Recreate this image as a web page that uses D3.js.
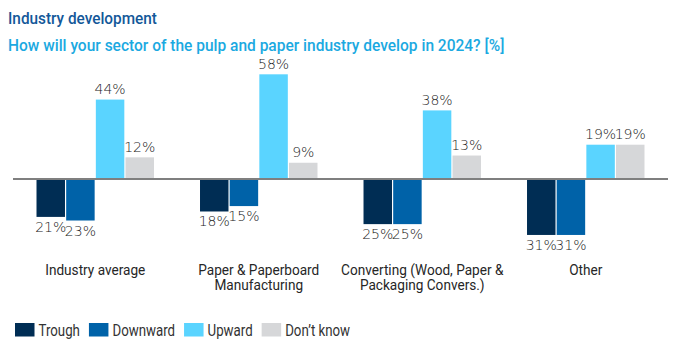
<!DOCTYPE html>
<html>
<head>
<meta charset="utf-8">
<script src="https://cdn.jsdelivr.net/npm/d3@7"></script>
<style>
  body { margin: 0; background: #fff; }
  svg { display: block; }
  text { font-family: Roboto, "Noto Sans", sans-serif; }
  text.val { font-family: "DejaVu Sans", sans-serif; font-weight: 200; }
</style>
</head>
<body>
<svg id="chart" width="673" height="341"></svg>
<script>
var categories = ["Industry average", "Paper & Paperboard Manufacturing", "Converting (Wood, Paper & Packaging Convers.)", "Other"];
var categoryLines = [["Industry average"], ["Paper & Paperboard", "Manufacturing"], ["Converting (Wood, Paper &", "Packaging Convers.)"], ["Other"]];
var seriesNames = ["Trough", "Downward", "Upward", "Don\u2019t know"];
var seriesColors = ["#002d54", "#0062a8", "#5ad4ff", "#d6d7d9"];

// negative = answers drawn below the line
var trough   = [-21, -18, -25, -31];
var downward = [-23, -15, -25, -31];
var upward   = [44, 58, 38, 19];
var dontKnow = [12, 9, 13, 19];

var series = [trough, downward, upward, dontKnow];

var svg = d3.select("#chart");

// the source font is condensed, squeeze Roboto horizontally
function squeezed(parent, x, y, sx) {
  return parent.append("g")
      .attr("transform", "translate(" + x + "," + y + ") scale(" + sx + ",1)")
    .append("text");
}

squeezed(svg, 8, 24, 0.93)
    .attr("font-size", 16.5)
    .attr("font-weight", 500)
    .attr("fill", "#135899")
    .text("Industry development");

squeezed(svg, 8, 51, 0.97)
    .attr("font-size", 16)
    .attr("font-weight", 500)
    .attr("fill", "#1ba9e1")
    .text("How will your sector of the pulp and paper industry develop in 2024? [%]");

// scales
var x0 = d3.scaleBand()
    .domain(categories)
    .range([13, 668])
    .paddingInner(0.267)
    .paddingOuter(0.1365);

var x1 = d3.scaleBand()
    .domain(seriesNames)
    .range([0, x0.bandwidth()])
    .padding(0.04);

var y = d3.scaleLinear()
    .domain([-40, 60])
    .range([251.2, 70.7]);

var rows = [];
categories.forEach(function(c, i) {
  series.forEach(function(s, j) {
    rows.push({cat: c, name: seriesNames[j], color: seriesColors[j], value: s[i]});
  });
});

var bars = svg.append("g");

bars.selectAll("rect")
    .data(rows)
    .enter()
    .append("rect")
    .attr("x", function(d) { return x0(d.cat) + x1(d.name); })
    .attr("width", x1.bandwidth())
    .attr("y", function(d) { return d.value >= 0 ? y(d.value) : y(0); })
    .attr("height", function(d) { return Math.abs(y(d.value) - y(0)); })
    .attr("fill", function(d) { return d.color; });

bars.selectAll("text")
    .data(rows)
    .enter()
    .append("text")
    .attr("class", "val")
    .attr("x", function(d) { return x0(d.cat) + x1(d.name) + x1.bandwidth() / 2; })
    .attr("y", function(d) { return d.value >= 0 ? y(d.value) - 5.5 : y(d.value) + 15; })
    .attr("text-anchor", "middle")
    .attr("font-size", 14)
    .attr("fill", "#222")
    .text(function(d) { return Math.abs(d.value) + "%"; });

// zero line
svg.append("line")
    .attr("x1", 13).attr("x2", 668)
    .attr("y1", y(0)).attr("y2", y(0))
    .attr("stroke", "#7f7f7f")
    .attr("stroke-width", 2);

// category labels, one text per line
categories.forEach(function(c, i) {
  categoryLines[i].forEach(function(line, k) {
    squeezed(svg, x0(c) + x0.bandwidth() / 2, 274.5 + k * 15.5, 0.88)
        .attr("text-anchor", "middle")
        .attr("font-size", 15.5)
        .attr("fill", "#262626")
        .text(line);
  });
});

// legend
var legend = svg.append("g").attr("transform", "translate(15,323)");
var lx = 0;
seriesNames.forEach(function(name, i) {
  legend.append("rect")
      .attr("x", lx)
      .attr("width", 19.5).attr("height", 13.5)
      .attr("fill", seriesColors[i]);
  var t = squeezed(legend, lx + 23.5, 12.5, 0.83)
      .attr("font-size", 16)
      .attr("fill", "#333")
      .text(name);
  lx += 23.5 + t.node().getComputedTextLength() * 0.83 + 9;
});
</script>
</body>
</html>
